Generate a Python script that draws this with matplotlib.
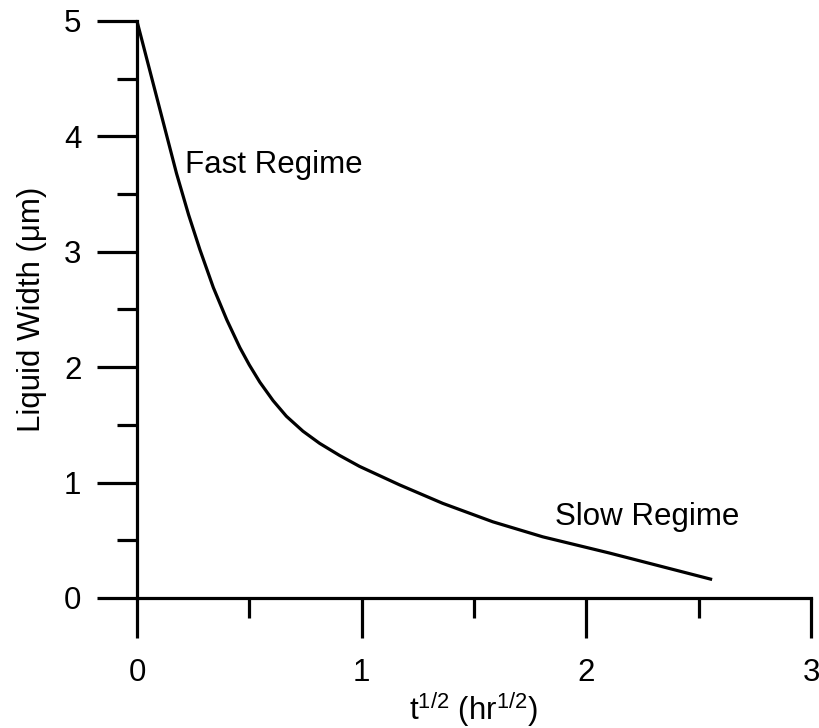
import matplotlib
matplotlib.use("Agg")
import matplotlib.pyplot as plt
from matplotlib.ticker import MultipleLocator

# values
t_half = [0.0, 0.06, 0.12, 0.176, 0.23, 0.28, 0.34, 0.40, 0.458, 0.50,
          0.547, 0.606, 0.665, 0.739, 0.813, 0.902, 0.991, 1.169, 1.361,
          1.584, 1.806, 2.102, 2.56]
width = [5.0, 4.55, 4.10, 3.68, 3.32, 3.02, 2.69, 2.41, 2.17, 2.02,
         1.87, 1.71, 1.575, 1.445, 1.34, 1.235, 1.14, 0.98, 0.82,
         0.66, 0.53, 0.39, 0.16]

x_ticks = [0, 1, 2, 3]
y_ticks = [0, 1, 2, 3, 4, 5]

plt.rcParams['font.family'] = ['Liberation Sans', 'DejaVu Sans']
plt.rcParams['mathtext.fontset'] = 'custom'
plt.rcParams['mathtext.rm'] = 'Liberation Sans'

fig = plt.figure(figsize=(8.2, 7.28), dpi=100)
ax = fig.add_axes([0.167, 0.1786, 0.822, 0.7926])

ax.plot(t_half, width, color='black', linewidth=2.3,
        solid_capstyle='butt', solid_joinstyle='round', clip_on=False)

ax.set_xlim(0, 3)
ax.set_ylim(0, 5)
ax.set_xticks(x_ticks)
ax.set_yticks(y_ticks)
ax.xaxis.set_minor_locator(MultipleLocator(0.5))
ax.yaxis.set_minor_locator(MultipleLocator(0.5))

for side in ('top', 'right'):
    ax.spines[side].set_visible(False)
for side in ('left', 'bottom'):
    ax.spines[side].set_linewidth(2.3)

ax.tick_params(which='major', direction='out', length=29, width=2.3,
               labelsize=22.5, pad=11)
ax.tick_params(which='minor', direction='out', length=14.5, width=2.3)
ax.tick_params(axis='x', which='major', pad=14)

ax.set_xlabel(r't$^{\mathregular{1/2}}$ (hr$^{\mathregular{1/2}}$)', fontsize=22.5, labelpad=2)
ax.set_ylabel('Liquid Width (\u03bcm)', fontsize=22.5, labelpad=12)

ax.text(0.215, 3.75, 'Fast Regime', fontsize=22.5, ha='left', va='center')
ax.text(1.86, 0.70, 'Slow Regime', fontsize=22.5, ha='left', va='center')

fig.savefig('out.png', dpi=100)
